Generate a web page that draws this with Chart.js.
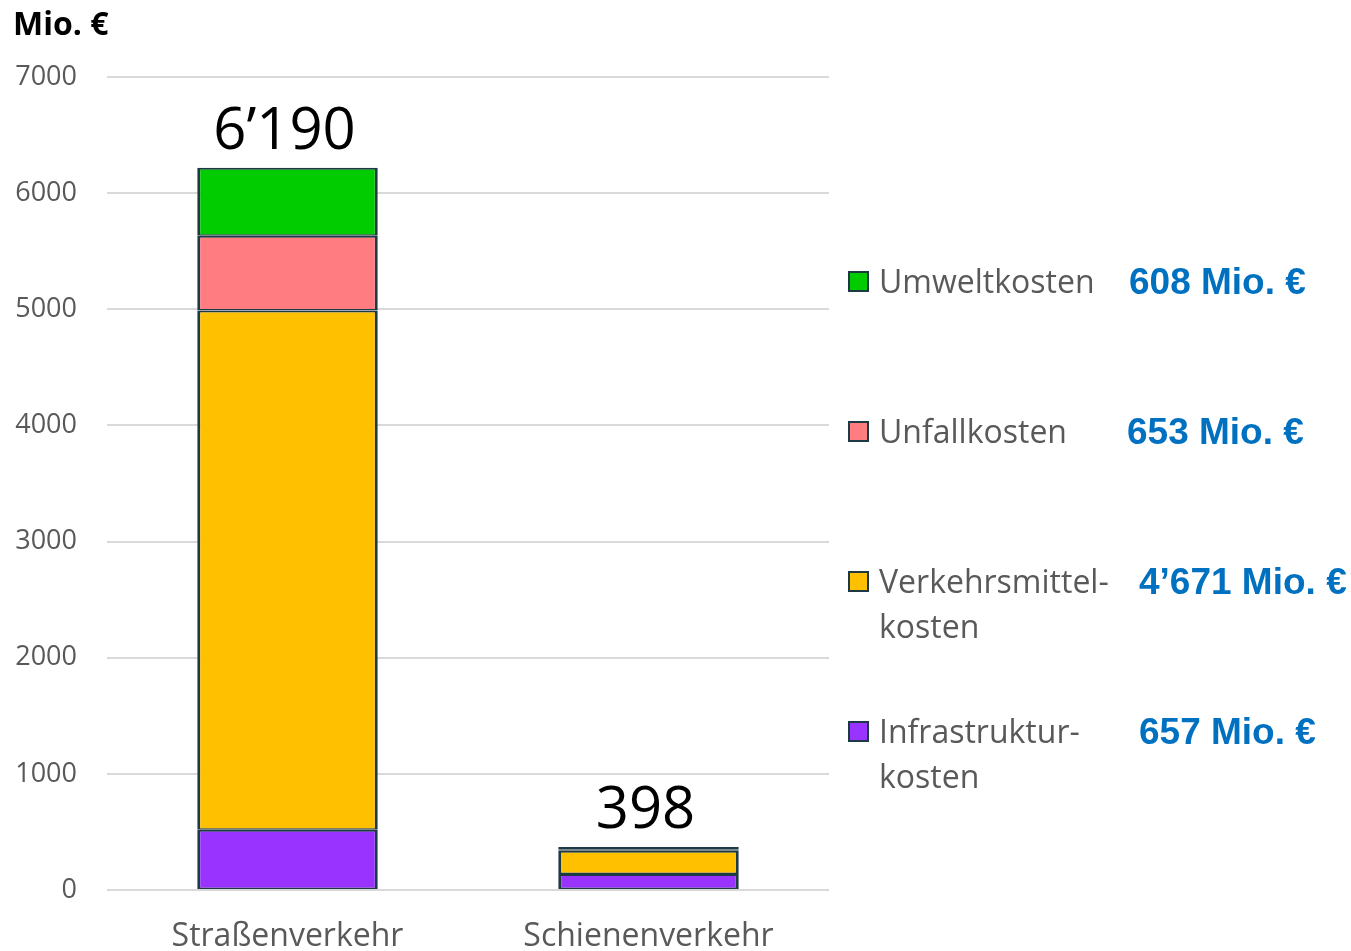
<!DOCTYPE html>
<html>
<head>
<meta charset="utf-8">
<script src="https://cdn.jsdelivr.net/npm/chart.js@4"></script>
<style>
  html,body{margin:0;padding:0;background:#fff;overflow:hidden;}
  #wrap{position:relative;width:1351px;height:951px;}
  canvas{position:absolute;left:0;top:0;}
  .title{position:absolute;left:13px;top:1px;font:bold 32px "Open Sans";color:#000;}
  .lg{position:absolute;left:848px;font:32px "Open Sans";color:#595959;line-height:45px;}
  .sw{position:absolute;left:0;top:13px;width:17px;height:17px;border:2px solid #1d3a44;}
  .lt{position:absolute;left:31px;top:0;white-space:nowrap;}
  .val{position:absolute;font:bold 37px "Liberation Sans";color:#0070C0;white-space:nowrap;line-height:45px;}
</style>
</head>
<body>
<div id="wrap">
  <canvas id="c" width="1351" height="951"></canvas>
  <div class="title">Mio. €</div>
  <div id="legend"></div>
</div>
<script>
const categories = ['Straßenverkehr', 'Schienenverkehr'];
const seriesNames = ['Infrastruktur-\nkosten', 'Verkehrsmittel-\nkosten', 'Unfallkosten', 'Umweltkosten'];
const infrastruktur = [519, 138];
const verkehrsmittel = [4470, 201];
const unfall = [645, 8];
const umwelt = [584, 24];
const totalLabels = ['6’190', '398'];
const legendValues = ['657 Mio. €', '4’671 Mio. €', '653 Mio. €', '608 Mio. €'];
const colors = ['#9933FF', '#FFC000', '#FF7C80', '#00CC00'];
const yTicks = [0, 1000, 2000, 3000, 4000, 5000, 6000, 7000];

const series = [infrastruktur, verkehrsmittel, unfall, umwelt];
const borderCol = '#1d3a44';

const totalsPlugin = {
  id: 'totals',
  afterDatasetsDraw(chart) {
    const ctx = chart.ctx;
    const last = chart.getDatasetMeta(chart.data.datasets.length - 1);
    ctx.save();
    ctx.font = '58px "Open Sans"';
    ctx.fillStyle = '#000';
    ctx.textAlign = 'center';
    ctx.textBaseline = 'bottom';
    last.data.forEach((bar, i) => {
      ctx.fillText(totalLabels[i], bar.x - 3, bar.y - 6);
    });
    ctx.restore();
  }
};

new Chart(document.getElementById('c'), {
  type: 'bar',
  data: {
    labels: categories,
    datasets: series.map((d, i) => ({
      label: seriesNames[i],
      data: d,
      backgroundColor: colors[i],
      borderColor: borderCol,
      borderWidth: { left: 3, right: 3, top: 2, bottom: 1.5 },
      borderSkipped: false,
      barPercentage: 1,
      categoryPercentage: 0.5
    }))
  },
  options: {
    responsive: false,
    animation: false,
    events: [],
    layout: { padding: { left: 0, right: 522, top: 77, bottom: 0 } },
    plugins: { legend: { display: false }, tooltip: { enabled: false } },
    scales: {
      x: {
        stacked: true,
        grid: { display: false },
        border: { display: false },
        ticks: { color: '#595959', font: { family: 'Open Sans', size: 32 }, padding: 20 },
        afterFit(s) { s.height = 61; }
      },
      y: {
        stacked: true,
        min: 0,
        max: 7000,
        afterBuildTicks(s) { s.ticks = yTicks.map(v => ({ value: v })); },
        grid: { color: '#d9d9d9', lineWidth: 2, drawTicks: false },
        border: { display: false },
        ticks: {
          color: '#595959', font: { family: 'Open Sans', size: 27 }, padding: 30,
          callback: v => String(v)
        },
        afterFit(s) { s.width = 107; }
      }
    }
  },
  plugins: [totalsPlugin]
});

// legend (top to bottom: Umwelt, Unfall, Verkehrsmittel, Infrastruktur)
const legendTops = [258, 408, 558, 708];
const valueLefts = [1129, 1127, 1139, 1139];
const order = [3, 2, 1, 0];
const lg = document.getElementById('legend');
order.forEach((si, k) => {
  const d = document.createElement('div');
  d.className = 'lg';
  d.style.top = legendTops[k] + 'px';
  const sw = document.createElement('div');
  sw.className = 'sw';
  sw.style.background = colors[si];
  const t = document.createElement('div');
  t.className = 'lt';
  t.innerHTML = seriesNames[si].split('\n').join('<br>');
  d.appendChild(sw); d.appendChild(t);
  lg.appendChild(d);
  const v = document.createElement('div');
  v.className = 'val';
  v.style.left = valueLefts[k] + 'px';
  v.style.top = (legendTops[k] + 1) + 'px';
  v.textContent = legendValues[si];
  lg.appendChild(v);
});
</script>
</body>
</html>
